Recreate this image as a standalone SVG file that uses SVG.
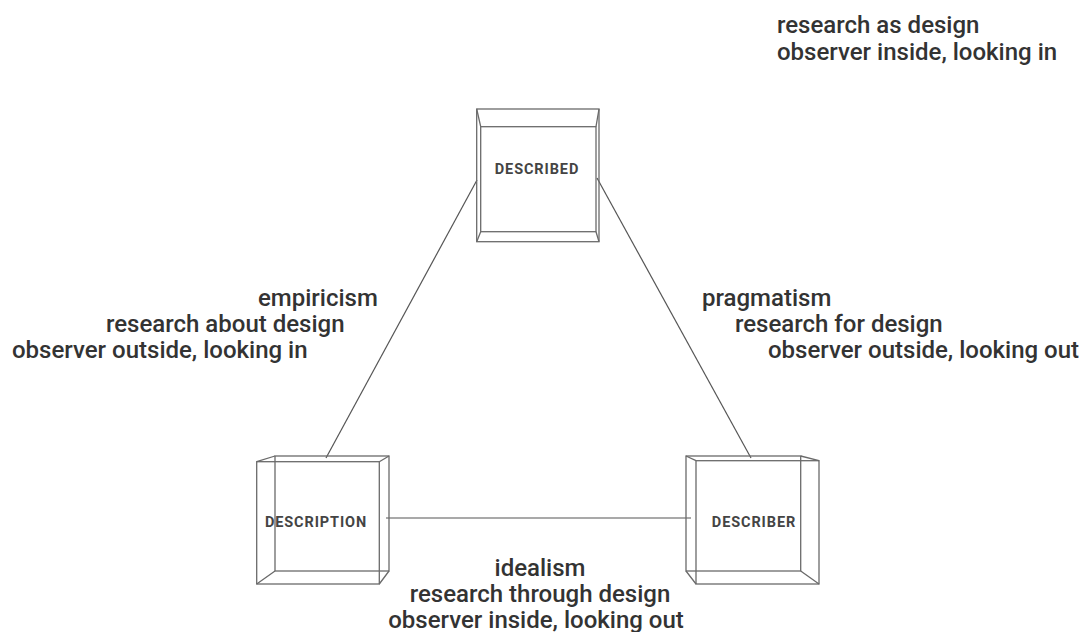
<svg xmlns="http://www.w3.org/2000/svg" width="1089" height="632" viewBox="0 0 1089 632">
<style>
.bx{fill:none;stroke:#6a6a6a;stroke-width:1.3}
.ln{fill:none;stroke:#555;stroke-width:1.2}
.lbl{font-family:Roboto,"Liberation Sans",sans-serif;font-weight:bold;font-size:14.5px;fill:#444;text-anchor:middle;letter-spacing:0.9px}
.t{font-family:Roboto,"Liberation Sans",sans-serif;font-weight:500;font-size:24px;fill:#333}
</style>
<rect width="1089" height="632" fill="#fff"/>
<g id="connectors">
<line class="ln" x1="477" y1="180" x2="326" y2="458"/>
<line class="ln" x1="597" y1="178" x2="751" y2="458"/>
<line class="ln" x1="386" y1="518" x2="691" y2="518"/>
</g>
<g id="described">
<rect class="bx" x="476.7" y="109" width="122.3" height="132.7"/>
<rect class="bx" x="480.7" y="126.7" width="115.3" height="105"/>
<path class="bx" d="M476.7 109L480.7 126.7M599 109L596 126.7M476.7 241.7L480.7 231.7M599 241.7L596 231.7"/>
<text class="lbl" x="537" y="174">DESCRIBED</text>
</g>
<g id="description">
<rect class="bx" x="275" y="456" width="114" height="115"/>
<rect class="bx" x="256.7" y="461.7" width="122.6" height="122.3"/>
<path class="bx" d="M256.7 461.7L275 456M379.3 461.7L389 456M256.7 584L275 571M379.3 584L389 571"/>
<text class="lbl" x="316" y="527">DESCRIPTION</text>
</g>
<g id="describer">
<rect class="bx" x="686" y="456" width="114.7" height="115"/>
<rect class="bx" x="696" y="460.7" width="123" height="123.3"/>
<path class="bx" d="M686 456L696 460.7M800.7 456L819 460.7M686 571L696 584M800.7 571L819 584"/>
<text class="lbl" x="754" y="527">DESCRIBER</text>
</g>
<g id="label-top">
<text class="t" x="777" y="33">research as design</text>
<text class="t" x="777" y="60">observer inside, looking in</text>
</g>
<g id="label-left">
<text class="t" x="258" y="305.5">empiricism</text>
<text class="t" x="106" y="331.5">research about design</text>
<text class="t" x="12" y="357.5">observer outside, looking in</text>
</g>
<g id="label-right">
<text class="t" x="702" y="305.5">pragmatism</text>
<text class="t" x="735" y="331.5">research for design</text>
<text class="t" x="768" y="357.5">observer outside, looking out</text>
</g>
<g id="label-bottom">
<text class="t" x="540" y="576" text-anchor="middle">idealism</text>
<text class="t" x="540" y="602" text-anchor="middle">research through design</text>
<text class="t" x="536" y="628" text-anchor="middle">observer inside, looking out</text>
</g>
</svg>
